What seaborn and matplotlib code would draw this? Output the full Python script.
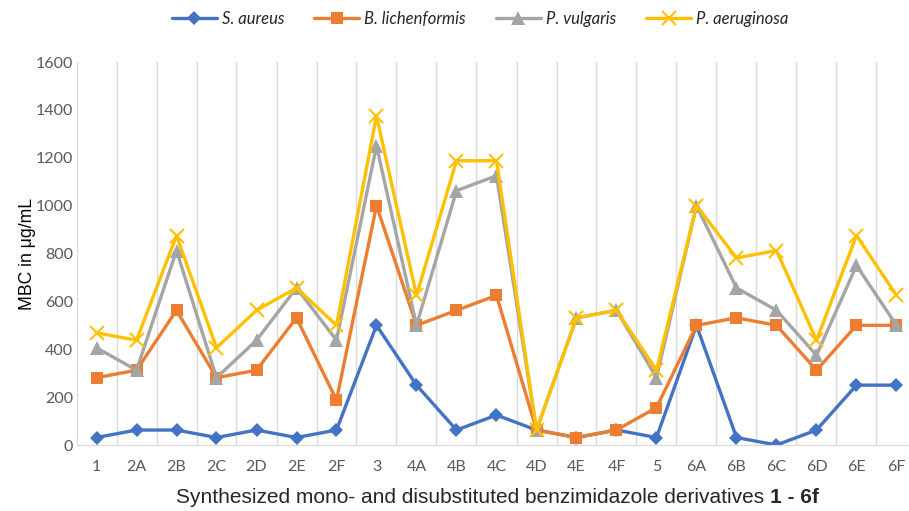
import numpy as np
import pandas as pd
import seaborn as sns
from matplotlib import pyplot as plt

compounds = ["1", "2A", "2B", "2C", "2D", "2E", "2F", "3", "4A", "4B", "4C",
             "4D", "4E", "4F", "5", "6A", "6B", "6C", "6D", "6E", "6F"]
s_aureus = [31.25, 62.5, 62.5, 31.25, 62.5, 31.25, 62.5, 500, 250, 62.5, 125,
            62.5, 31.25, 62.5, 31.25, 500, 31.25, 0, 62.5, 250, 250]
b_lichen = [281.25, 312.5, 562.5, 281.25, 312.5, 531.25, 187.5, 1000, 500, 562.5, 625,
            62.5, 31.25, 62.5, 156.25, 500, 531.25, 500, 312.5, 500, 500]
p_vulgaris = [406.25, 312.5, 812.5, 281.25, 437.5, 656.25, 437.5, 1250, 500, 1062.5, 1125,
              62.5, 531.25, 562.5, 281.25, 1000, 656.25, 562.5, 375, 750, 500]
p_aerug = [468.75, 437.5, 875, 406.25, 562.5, 656.25, 500, 1375, 625, 1187.5, 1187.5,
           62.5, 531.25, 562.5, 312.5, 1000, 781.25, 812.5, 437.5, 875, 625]
strains = ["S. aureus", "B. lichenformis", "P. vulgaris", "P. aeruginosa"]
colors = ["#4472C4", "#ED7D31", "#A5A5A5", "#FFC000"]
marks = ["D", "s", "^", "x"]

df = pd.concat([pd.DataFrame({"compound": compounds, "mbc": v, "strain": s})
                for s, v in zip(strains, [s_aureus, b_lichen, p_vulgaris, p_aerug])])

sns.set_style("white")
plt.rcParams['font.family'] = ['Liberation Sans', 'DejaVu Sans']

fig = plt.figure(figsize=(9.09, 5.11), dpi=100)
ax = fig.add_axes([76.5 / 909, 66 / 511, 840 / 909, 383 / 511])

sns.lineplot(data=df, x="compound", y="mbc", hue="strain", palette=colors,
             sort=False, errorbar=None, linewidth=2.4, legend=False, ax=ax)

sizes = {"D": 7, "s": 8.5, "^": 9.5, "x": 10}
for line, m, c in zip(ax.lines, marks, colors):
    line.set_marker(m)
    line.set_markersize(sizes[m])
    line.set_markerfacecolor(c)
    line.set_markeredgecolor(c)
    line.set_markeredgewidth(1.5 if m == "x" else 0)

ax.set_xlim(-0.5, 20.5)
ax.set_ylim(0, 1600)
ax.set_yticks(np.arange(0, 1601, 200))
ax.set_xticks(np.arange(-0.5, 21, 1), minor=True)
ax.grid(which="minor", axis="x", color="#D9D9D9", linewidth=1)
ax.grid(which="major", axis="both", visible=False)
ax.tick_params(axis="both", which="both", length=0, labelcolor="#595959", labelsize=11.5)
ax.tick_params(axis="x", pad=11)
ax.tick_params(axis="y", pad=2.5)
for lab in ax.get_xticklabels() + ax.get_yticklabels():
    lab.set_family(["Lato", "DejaVu Sans"])
for sp in ["top", "right", "left"]:
    ax.spines[sp].set_visible(False)
ax.spines["bottom"].set_color("#D9D9D9")

ax.set_ylabel("MBC in μg/mL", fontsize=12.7, color="black", labelpad=0)
ax.set_xlabel("")

# x label: regular part + bold "1 - 6f", centred together
fs = 15
y_lab = 1 - 497 / 511
t1 = fig.text(0, y_lab, "Synthesized mono- and disubstituted benzimidazole derivatives",
              fontsize=fs, va="center", ha="left")
t2 = fig.text(0, y_lab, "1 - 6f", fontsize=fs, weight="bold", va="center", ha="left")
fig.canvas.draw()
r = fig.canvas.get_renderer()
w1 = t1.get_window_extent(r).width
w2 = t2.get_window_extent(r).width
gap = 0.28 * fs * 100 / 72
x0 = 497 - (w1 + gap + w2) / 2
t1.set_x(x0 / 909)
t2.set_x((x0 + w1 + gap) / 909)

ax.legend(ax.lines[:4], strains, loc="center", bbox_to_anchor=(480 / 909, 1 - 19 / 511),
          bbox_transform=fig.transFigure, ncol=4, frameon=False,
          prop={"family": "Lato", "style": "italic", "size": 12},
          handlelength=2.7, handletextpad=0.3, columnspacing=1.8)

plt.savefig("out.png", dpi=100)
